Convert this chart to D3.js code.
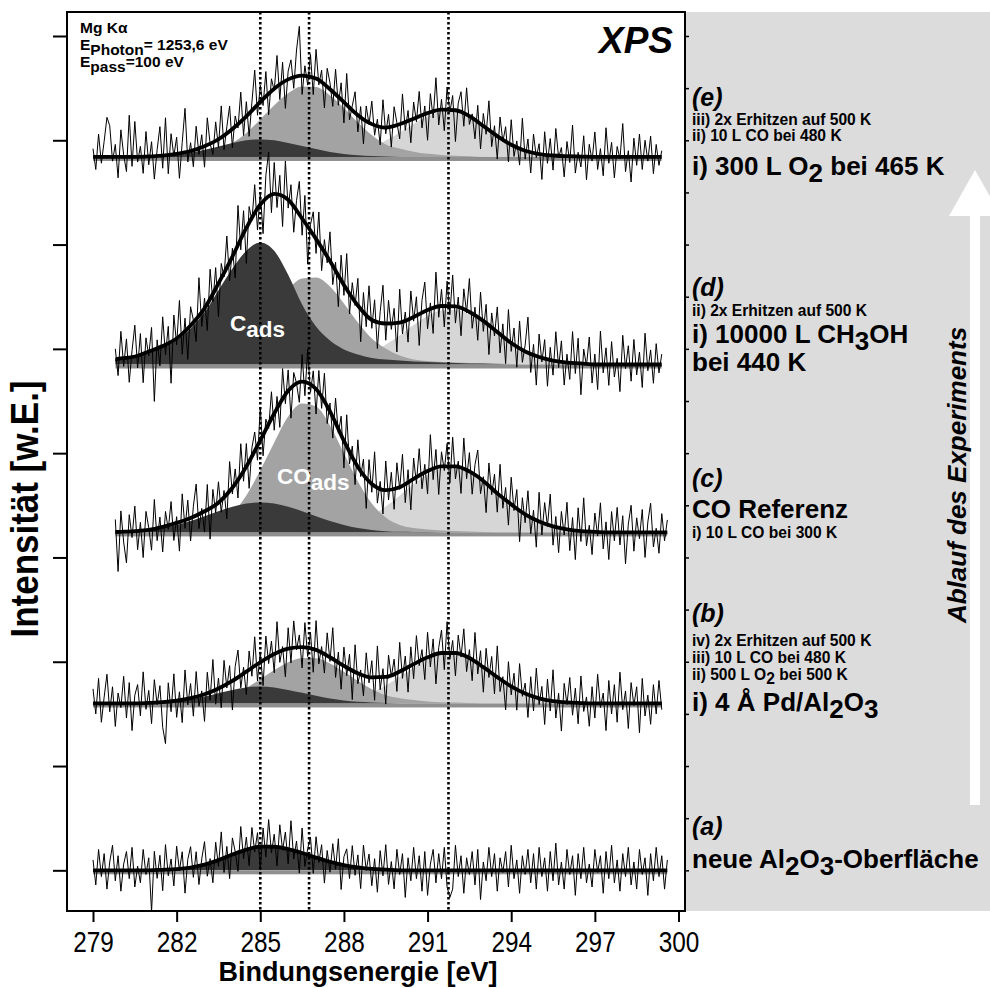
<!DOCTYPE html>
<html>
<head>
<meta charset="utf-8">
<script src="https://cdn.jsdelivr.net/npm/d3@7"></script>
<style>
  body { margin: 0; background: #fff; }
  svg { display: block; font-family: "Liberation Sans", Arial, sans-serif; }
</style>
</head>
<body>
<svg id="chart" width="990" height="988"></svg>
<script>
// ---- data -------------------------------------------------------------
// fit components sampled every 0.5 eV, 279 ... 300 eV (43 values, counts above the offset)
let fitE = d3.range(43).map(i => 279 + i * 0.5);

let spectrumNames = ["a", "b", "c", "d", "e"];
let offsets = [0, 160, 324, 485, 684];          // stacking offset of each spectrum (counts)
let startE = [279.0, 279.0, 279.8, 279.8, 279.0]; // first measured point (eV), step 0.1 eV
let dottedE = [285.0, 286.75, 291.75];           // reference lines (eV)

// (e) 300 L O2 bei 465 K
let darkE = [0,0,0,0,0.5,1.2,2.3,4.2,6.9,10,13.4,16,16.8,16,13.4,10.5,7.7,4.8,2.9,1.7,1,0.5,0,0,0,0,0,0,0,0,0,0,0,0,0,0,0,0,0,0,0,0,0];
let mediumE = [0,0,0,0,0,0,0.7,1.5,3.3,7,13.5,23,36,49.5,61,67.5,67,59,47,33,21,12,8,5,3,2,1.2,0.7,0,0,0,0,0,0,0,0,0,0,0,0,0,0,0];
let lightE = [0,0,0,0,0,0,0,0,0,0,0,0,0,0,0,0,0.5,1.2,2.7,5.3,9.5,15.7,23.4,31.7,39,43.3,43.6,38.5,29.7,20,11.7,5.9,2.7,1.4,0.8,0.4,0,0,0,0,0,0,0];
// (d) 10000 L CH3OH
let darkD = [2.9,3.8,5.8,7.7,11.5,16.3,23,34.5,50,71,92,109,117,109,86,57.5,36.4,23,14.4,9.6,6.2,4.8,3.8,2.9,2.4,1.9,1.4,1,1,0.5,0,0,0,0,0,0,0,0,0,0,0,0,0];
let mediumD = [0,0,0,0,1,1.4,1.9,2.9,3.8,6.7,11.5,22,36.4,54.7,72,82.5,83.4,74.8,58.5,40.3,25,15.3,8.6,4.8,3.4,2.4,1.9,1.4,1,1,0.5,0,0,0,0,0,0,0,0,0,0,0,0];
let lightD = [0,0,0,0,0,0,0,0,0,0,0,0,0,0,0,0,0.7,1.4,3.4,6.7,11.5,19.2,27.8,37.9,46.5,51.8,52.4,48,39.8,29.7,20.1,12.5,7.2,3.8,1.9,1,0,0,0,0,0,0,0];
// (c) CO Referenz
let darkC = [0.1,0.2,0.6,1.2,2.4,4.3,7.2,10.9,15.5,20.3,24.6,27.7,28.8,27.7,24.6,20.3,15.5,10.9,7.2,4.3,2.4,1.2,0.6,0.5,0.3,0,0,0,0,0,0,0,0,0,0,0,0,0,0,0,0,0,0];
let mediumC = [0,0,0,0,0,1,1.9,2.9,4.8,8.2,18.2,35.5,59.5,86.3,111.2,123.7,120.8,102.6,75.8,48.9,27.8,14.4,7.2,4.3,2.9,1.9,1.4,1,0.5,0,0,0,0,0,0,0,0,0,0,0,0,0,0];
let lightC = [0,0,0,0,0,0,0,0,0,0,0,0,0,0,0,0.5,1.2,2.6,4.8,9.6,16.3,24.9,35.5,46.5,55.6,61.4,61.9,57.5,48.9,37.4,26.9,17.3,10.5,5.8,2.9,1.3,0.6,0,0,0,0,0,0];
// (b) 4 A Pd/Al2O3
let darkB = [0,0,0,0,0.5,1.2,2.2,4.1,6.7,9.9,13,15.4,16.3,15.4,13,10.3,7.5,4.7,2.8,1.6,1,0.5,0,0,0,0,0,0,0,0,0,0,0,0,0,0,0,0,0,0,0,0,0];
let mediumB = [0,0,0,0,0,0,0.5,1,2.1,4.5,8.7,15.1,23.2,32,39.6,43.7,43.3,38.3,30.3,21.5,13.6,7.8,5.1,3.2,1.9,1.2,0.8,0.5,0,0,0,0,0,0,0,0,0,0,0,0,0,0,0];
let lightB = [0,0,0,0,0,0,0,0,0,0,0,0,0,0,0,0,0.6,1.3,2.9,5.8,10.4,17.1,25.5,34.5,42.3,47.2,47.6,43.1,34.8,25.2,16.3,9.5,4.9,2.3,1,0.4,0,0,0,0,0,0,0];
// (a) neue Al2O3-Oberflaeche
let darkA = [0,0,0,0,0,0.5,1.2,2.7,5.5,9.8,15.1,19.9,22.7,22.6,20.3,16.6,12.2,8.2,5,2.8,1.3,0.6,0,0,0,0,0,0,0,0,0,0,0,0,0,0,0,0,0,0,0,0,0];

// measured points minus fit (counts), 0.1 eV step from startE
let residE = [8,-12,22,-6,15,38,30,-4,12,-20,26,2,-14,40,-9,34,-5,10,-16,24,
  -8,14,-22,6,28,-12,36,-18,20,-2,16,-24,10,42,-10,8,-16,22,-6,12,
  -20,26,0,-12,18,-8,30,-14,6,24,-18,10,-4,28,-16,14,-22,8,36,-10,
  16,-6,24,-20,12,-2,30,-14,20,-26,8,18,-10,26,48,-18,10,-8,22,-16,
  28,-4,12,-22,18,6,-14,24,-8,16,-20,30,-12,4,20,-16,10,-24,14,-2,
  22,-10,6,-18,26,-6,12,-20,18,2,-14,28,-8,10,-22,16,-4,24,-12,8,
  -26,18,-6,32,-14,10,-20,22,-2,14,-30,8,20,-12,26,-8,4,-18,16,-24,
  12,-6,28,-14,8,-22,20,-2,14,-18,24,-10,6,-16,30,-8,12,-20,18,-4,
  10,-24,22,-8,16,-14,26,-2,8,-20,14,-6,30,-16,4,-10,20,-22,12,-4,
  24,-12,8,-18,28,-6,14,-20,10,-2,32,-14,6,-24,18,-8,22,-12,16,-4,
  20,-16,12,-8,6];
let residD = [10,-16,26,-8,18,-24,6,30,-12,20,-28,14,-4,22,-50,8,-18,28,-10,16,
  -40,24,-6,34,-20,12,-30,18,2,-22,36,-14,10,-26,28,-8,20,-32,14,-4,
  30,-18,8,-26,38,-10,22,-34,16,-2,28,-20,12,-30,24,44,-16,30,-12,20,
  -28,36,-8,18,-24,10,32,-16,26,-36,6,22,-14,30,-22,12,-6,28,-18,8,
  -30,24,-10,34,-20,14,-4,26,-32,18,-12,30,-8,20,-26,10,36,-16,22,-6,
  14,-28,32,-12,8,-22,26,-4,18,-30,12,28,-18,6,-24,34,-10,16,-20,24,
  -8,30,-16,10,-26,20,-2,32,-14,8,-22,26,-10,18,-28,14,-6,24,-18,12,
  -24,30,-8,16,-20,26,-12,6,34,-18,10,-28,22,-4,18,-26,12,-14,28,-6,
  20,-22,8,-16,30,-10,24,-30,14,-2,26,-18,10,-24,32,-8,16,-20,22,-12,
  6,-26,28,-4,18,-16,24,-10,12,-22,30,-6,14,-18,20,-8,10];
let residC = [12,-38,20,-10,-30,16,-6,24,-18,8,-26,18,2,-20,28,-12,10,-24,14,-4,
  22,-16,6,-28,26,-8,18,-22,10,30,-14,4,-20,24,-30,16,-8,20,-12,6,
  -24,28,-6,14,-18,30,-10,22,-26,8,18,-14,32,-20,10,-4,26,-16,12,-22,
  30,-8,20,-28,14,2,-18,26,-12,34,-6,16,-24,22,-10,28,-16,8,-20,24,
  -4,18,-26,30,-12,10,-22,26,-6,14,-30,20,-8,32,-16,6,-24,28,-10,16,
  -20,24,-2,30,-18,12,-28,20,-6,26,-14,8,-22,34,-10,18,-26,14,-4,22,
  -16,28,-12,6,-24,30,-8,18,-20,10,26,-14,4,-28,22,-6,16,-18,30,-10,
  12,-22,26,-4,18,-30,14,-8,24,-16,8,-26,28,-12,20,-2,30,-18,10,-24,
  16,-6,26,-20,12,-28,22,-10,32,-14,6,-22,18,-4,28,-16,10,-26,20,-8,
  24,-12,16,-30,8,26,-18,14,-6,22,-24,10,28,-14,4,-20,18,-8,12];
let residB = [14,-10,24,-18,6,28,-8,16,-22,10,-4,26,-14,20,-26,8,18,-12,30,-6,
  12,-20,22,-2,16,-24,-40,18,-10,26,-16,8,-22,28,-6,14,-18,24,-10,4,
  -26,20,-8,30,-14,10,-20,24,-4,16,-28,12,26,-12,6,-22,18,-8,28,-16,
  10,-24,22,-6,14,-18,30,-10,4,-26,20,-14,26,-2,12,-20,24,-8,16,-22,
  28,-12,6,-18,22,-4,30,-16,10,-24,18,-8,14,-28,26,-10,4,-20,22,-6,
  16,-22,30,-12,8,-26,20,-2,14,-18,28,-8,12,-24,18,-14,26,-4,10,-20,
  24,-10,16,-28,6,22,-16,30,-6,12,-22,18,-2,26,-14,8,-20,28,-10,14,
  -24,20,-6,16,-18,30,-12,4,-26,22,-8,14,-20,26,-4,10,-22,18,-14,28,
  -6,12,-24,20,-10,30,-16,8,-28,18,-2,24,-12,14,-20,26,-8,6,-22,16,
  -14,28,-4,10,-26,22,-10,18,-18,30,-6,12,-24,20,-2,16,-28,24,-12,8,
  -20,18,-10,22,-6];
let residA = [10,-14,20,-6,16,-18,8,24,-10,14,-20,6,18,-8,22,-16,4,-12,20,-4,
  12,-40,18,-8,14,-20,24,-6,10,-16,22,-2,16,-24,8,20,-10,14,-18,6,
  22,-12,4,-20,18,-6,26,-14,10,-22,16,2,-18,24,-8,12,-16,20,-4,14,
  -22,18,-10,26,-6,12,-18,22,-2,16,-14,28,-8,10,-20,24,-12,6,18,-16,
  20,-4,14,-22,10,-10,18,-6,24,-24,8,16,-12,20,-8,12,-20,22,-2,14,
  -16,10,-22,18,-6,24,-14,8,-18,20,-4,16,-26,12,-10,22,-8,14,-20,18,
  -24,6,20,-12,16,-8,22,-16,-26,-18,24,-6,14,-22,12,-4,18,-14,20,-28,
  8,-10,22,-6,16,-20,12,-2,18,-16,24,-8,10,-22,14,-4,20,-12,16,-18,
  22,-6,12,-20,18,-10,26,-14,8,-18,20,-4,14,-24,16,-8,22,-12,6,-16,
  20,-2,14,-22,18,-8,24,-12,10,-20,16,-6,22,-14,8,-18,20,-4,12,-24,
  16,-10,22,-6,14,-18,10];

// axis ticks
let xTicks = d3.range(279, 301, 1);
let xLabels = [279, 282, 285, 288, 291, 294, 297, 300];
let yTicks = d3.range(0, 801, 50);
let yMajor = d3.range(0, 801, 100);

// text on the right side, one entry per line
let stepLabels = [
  {y: 106, size: 25, italic: true, parts: ["(e)"]},
  {y: 125, size: 15.6, parts: ["iii) 2x Erhitzen auf 500 K"]},
  {y: 141, size: 15.6, parts: ["ii) 10 L CO bei 480 K"]},
  {y: 175, size: 26, parts: ["i) 300 L O", ["2", 7], " bei 465 K"]},
  {y: 296, size: 25, italic: true, parts: ["(d)"]},
  {y: 316, size: 15.6, parts: ["ii) 2x Erhitzen auf 500 K"]},
  {y: 343, size: 26, parts: ["i) 10000 L CH", ["3", 7], "OH"]},
  {y: 371, size: 26, parts: ["bei 440 K"]},
  {y: 487, size: 25, italic: true, parts: ["(c)"]},
  {y: 518, size: 26, parts: ["CO Referenz"]},
  {y: 538, size: 15.6, parts: ["i) 10 L CO bei 300 K"]},
  {y: 622, size: 25, italic: true, parts: ["(b)"]},
  {y: 646, size: 15.6, parts: ["iv) 2x Erhitzen auf 500 K"]},
  {y: 663, size: 15.6, parts: ["iii) 10 L CO bei 480 K"]},
  {y: 680, size: 15.6, parts: ["ii) 500 L O", ["2", 4], " bei 500 K"]},
  {y: 711, size: 26, parts: ["i) 4 Å Pd/Al", ["2", 7], "O", ["3", 7]]},
  {y: 835, size: 25, italic: true, parts: ["(a)"]},
  {y: 868, size: 26, parts: ["neue Al", ["2", 7], "O", ["3", 7], "-Oberfläche"]}
];

// ---- drawing ------------------------------------------------------------
let svg = d3.select("#chart");
let plotLeft = 67, plotRight = 685, plotTop = 12, plotBottom = 911;

let x = d3.scaleLinear().domain([279, 300]).range([93, 678.5]);
let y = d3.scaleLinear().domain([-39, 823]).range([plotBottom, plotTop]);

// grey panel behind the step labels
svg.append("rect").attr("x", plotRight).attr("y", plotTop).attr("width", 990 - plotRight).attr("height", plotBottom - plotTop)
  .attr("fill", "#dcdcdc");

let comps = {
  a: [darkA, null, null, residA],
  b: [darkB, mediumB, lightB, residB],
  c: [darkC, mediumC, lightC, residC],
  d: [darkD, mediumD, lightD, residD],
  e: [darkE, mediumE, lightE, residE]
};
let fillColors = ["#3a3a3a", "#a3a3a3", "#d6d6d6"];

let spectra = spectrumNames.map((name, k) => {
  let [dark, medium, light, resid] = comps[name];
  let parts = [dark, medium, light];
  let envelope = fitE.map((e, i) => parts.reduce((s, p) => s + (p ? p[i] : 0), 0));
  let fitAt = d3.scaleLinear().domain(fitE).range(envelope).clamp(true);
  let start = startE[k];
  let end = start + (resid.length - 1) * 0.1;
  let raw = resid.map((r, i) => {
    let e = start + i * 0.1;
    return [e, offsets[k] + fitAt(e) + r];
  });
  return {name, offset: offsets[k], start, end, parts, envelope, raw};
});

let defs = svg.append("defs");
spectra.forEach(s => {
  defs.append("clipPath").attr("id", "clip-" + s.name)
    .append("rect").attr("x", x(s.start)).attr("y", 0)
    .attr("width", x(s.end) - x(s.start)).attr("height", 988);
});

let area = (off) => d3.area()
  .x((d, i) => x(fitE[i]))
  .y0(y(off))
  .y1(d => y(off + d))
  .curve(d3.curveMonotoneX);

// filled components: light first, dark on top
let fills = svg.append("g");
spectra.forEach(s => {
  let g = fills.append("g").attr("clip-path", `url(#clip-${s.name})`);
  [2, 1, 0].forEach(c => {
    if (!s.parts[c]) return;
    g.append("path").attr("d", area(s.offset)(s.parts[c])).attr("fill", fillColors[c]);
  });
  // baseline strip
  g.append("rect").attr("x", x(s.start)).attr("y", y(s.offset))
    .attr("width", x(s.end) - x(s.start)).attr("height", 4).attr("fill", "#8f8f8f");
});

// dotted reference lines
svg.append("g").selectAll("line").data(dottedE).enter().append("line")
  .attr("x1", d => x(d)).attr("x2", d => x(d))
  .attr("y1", plotTop).attr("y2", plotBottom)
  .attr("stroke", "#000").attr("stroke-width", 2.6).attr("stroke-dasharray", "2.6,2.4");

// measured spectra and fit envelopes
let rawLine = d3.line().x(d => x(d[0])).y(d => y(d[1]));
spectra.forEach(s => {
  svg.append("path").attr("d", rawLine(s.raw))
    .attr("fill", "none").attr("stroke", "#000").attr("stroke-width", 1).attr("stroke-linejoin", "round");
  let env = d3.line().x((d, i) => x(fitE[i])).y(d => y(s.offset + d)).curve(d3.curveMonotoneX);
  svg.append("g").attr("clip-path", `url(#clip-${s.name})`)
    .append("path").attr("d", env(s.envelope))
    .attr("fill", "none").attr("stroke", "#000").attr("stroke-width", 3.8).attr("stroke-linecap", "round");
});

// frame
svg.append("rect").attr("x", plotLeft).attr("y", plotTop).attr("width", plotRight - plotLeft).attr("height", plotBottom - plotTop)
  .attr("fill", "none").attr("stroke", "#000").attr("stroke-width", 2);

// bottom axis
let gx = svg.append("g").attr("transform", `translate(0,${plotBottom})`);
gx.call(d3.axisBottom(x).tickValues(xTicks).tickSize(6).tickFormat(""));
gx.call(d3.axisBottom(x).tickValues(xLabels).tickSize(11).tickFormat(d3.format("d")));
gx.selectAll(".domain").remove();
gx.selectAll("line").attr("stroke", "#000").attr("stroke-width", 2);
// condensed digits like the original
gx.selectAll("text").attr("y", 41).attr("dy", null).attr("fill", "#000")
  .attr("transform", "scale(0.84,1)")
  .style("font-family", '"Liberation Sans", Arial, sans-serif')
  .style("font-size", "29px");

// left axis
let gy = svg.append("g").attr("transform", `translate(${plotLeft},0)`);
gy.call(d3.axisLeft(y).tickValues(yTicks).tickSize(7).tickFormat(""));
gy.call(d3.axisLeft(y).tickValues(yMajor).tickSize(14).tickFormat(""));
gy.selectAll(".domain").remove();
gy.selectAll("line").attr("stroke", "#000").attr("stroke-width", 2);

// right axis
let gr = svg.append("g").attr("transform", `translate(${plotRight},0)`);
gr.call(d3.axisRight(y).tickValues(yTicks).tickSize(4).tickFormat(""));
gr.selectAll(".domain").remove();
gr.selectAll("line").attr("stroke", "#000").attr("stroke-width", 1.5);

// text helper with lowered (subscript) parts
function richText(x0, y0, parts, o) {
  let t = svg.append("text").attr("x", x0).attr("y", y0)
    .attr("font-size", o.size).attr("font-weight", o.weight || "bold")
    .attr("font-style", o.italic ? "italic" : "normal")
    .attr("fill", o.fill || "#000").attr("text-anchor", o.anchor || "start");
  if (o.family) t.style("font-family", o.family);
  let shift = 0;
  parts.forEach(p => {
    let str = typeof p === "string" ? p : p[0];
    let s = typeof p === "string" ? 0 : p[1];
    t.append("tspan").attr("dy", s - shift).text(str);
    shift = s;
  });
  return t;
}

stepLabels.forEach(l => richText(692, l.y, l.parts, {size: l.size, italic: l.italic}));

// measurement info
richText(80, 33, ["Mg Kα"], {size: 15.5});
richText(80, 50, ["E", ["Photon", 5], "= 1253,6 eV"], {size: 15.5});
richText(80, 67, ["E", ["pass", 5], "=100 eV"], {size: 15.5});
richText(673, 53, ["XPS"], {size: 37, italic: true, anchor: "end"});

// peak names
richText(230, 331, ["C", ["ads", 6]], {size: 22.5, fill: "#fff"});
richText(277, 484, ["CO", ["ads", 6]], {size: 22.5, fill: "#fff"});

// axis titles
richText(358, 981, ["Bindungsenergie [eV]"], {size: 27, anchor: "middle"});
richText(0, 0, ["Intensität [w.E.]"], {size: 38, anchor: "middle"})
  .attr("transform", "translate(38,509) rotate(-90) scale(0.92,1)");

// arrow for the order of the experiment
svg.append("path").attr("d", "M975,170 L1001,216 L949,216 Z").attr("fill", "#fff");
svg.append("rect").attr("x", 970).attr("y", 215).attr("width", 10).attr("height", 590).attr("fill", "#fff");
richText(0, 0, ["Ablauf des Experiments"], {size: 26, italic: true, anchor: "middle"})
  .attr("transform", "translate(966,475) rotate(-90)");
</script>
</body>
</html>
